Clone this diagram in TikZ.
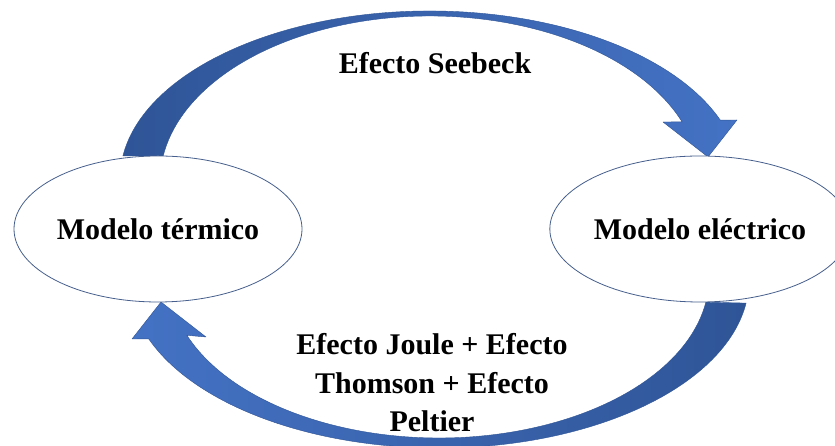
\documentclass[tikz,border=0pt]{standalone}
\usepackage{fontspec}
\setmainfont{Liberation Serif}
\usetikzlibrary{shapes.geometric}
\definecolor{arrowdark}{RGB}{47,85,151}
\definecolor{arrowlight}{RGB}{68,114,196}
\definecolor{ringline}{RGB}{70,95,140}
\begin{document}
\begin{tikzpicture}[x=1pt,y=1pt,
  model/.style={ellipse, draw=ringline, line width=0.8pt, fill=white,
    minimum height=146pt, inner sep=0pt,
    font=\fontsize{30}{36}\selectfont\bfseries},
  effecttext/.style={font=\fontsize{30}{38.5}\selectfont\bfseries,
    align=center, inner sep=0pt},
  band/.style={draw=arrowdark, line width=0.4pt, line join=round},
]
\useasboundingbox (0,0) rectangle (835,446);

% Seebeck: curved arrow from the thermal model to the electrical model
\path[band, left color=arrowdark, right color=arrowlight]
  (122.9,290.1) arc[start angle=172.1, end angle=20.5, x radius=310pt, y radius=168pt]
  -- (737,326) coordinate (seebeckwingR)
  -- (708,289) coordinate (seebecktip)
  -- (663,324) coordinate (seebeckwingL)
  -- (682.1,324.1)
  arc[start angle=21, end angle=171.3, x radius=270pt, y radius=165pt]
  -- cycle;

% Joule + Thomson + Peltier: curved arrow back to the thermal model
\path[band, left color=arrowlight, right color=arrowdark]
  (746.1,142.9) arc[start angle=352.1, end angle=200.5, x radius=310pt, y radius=168pt]
  -- (132,107) coordinate (joulewingL)
  -- (161,144) coordinate (jouletip)
  -- (206,109) coordinate (joulewingR)
  -- (186.9,110.7)
  arc[start angle=201, end angle=351.3, x radius=270pt, y radius=160pt]
  -- cycle;

% the two models
\node[model, minimum width=288pt] (term) at (158,217) {Modelo térmico};
\node[model, minimum width=284pt] (elec) at (700,217) {Modelo eléctrico};

% effect labels (base anchor sits on the last line)
\node[effecttext, anchor=base] (seebeck) at (435,372) {Efecto Seebeck};
\node[effecttext, anchor=base] (joule) at (432,14)
  {Efecto Joule + Efecto\\Thomson + Efecto\\Peltier};
\end{tikzpicture}
\end{document}
